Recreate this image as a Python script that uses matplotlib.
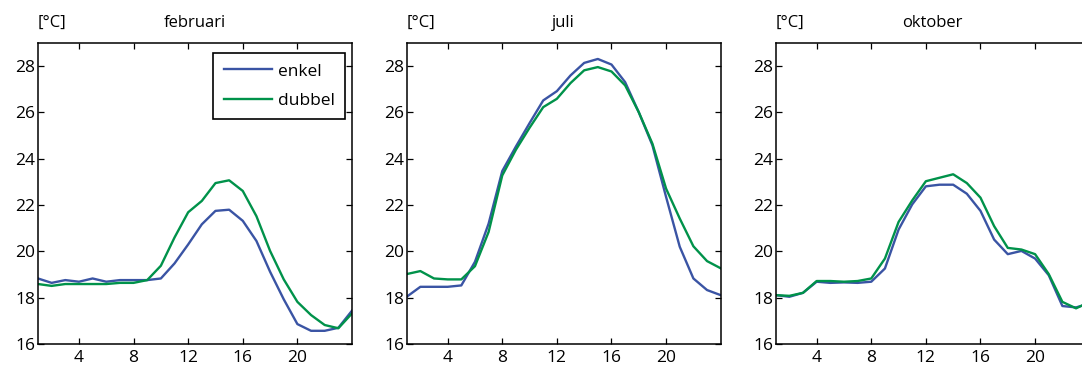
import matplotlib
matplotlib.use('Agg')
import matplotlib.pyplot as plt
import numpy as np

# uur van de dag
hours = np.arange(1, 25)

months = ['februari', 'juli', 'oktober']

feb_enkel = [18.83, 18.64, 18.76, 18.69, 18.83, 18.69, 18.76, 18.76, 18.76, 18.83, 19.48, 20.30,
             21.17, 21.75, 21.80, 21.32, 20.45, 19.12, 17.93, 16.86, 16.57, 16.57, 16.70, 17.44]
feb_dubbel = [18.59, 18.51, 18.59, 18.59, 18.59, 18.59, 18.64, 18.64, 18.76, 19.38, 20.60, 21.69,
              22.18, 22.95, 23.07, 22.61, 21.52, 20.02, 18.79, 17.82, 17.25, 16.82, 16.68, 17.32]

jul_enkel = [18.04, 18.47, 18.47, 18.47, 18.53, 19.55, 21.20, 23.47, 24.53, 25.54, 26.52, 26.92,
             27.60, 28.14, 28.31, 28.07, 27.31, 26.01, 24.58, 22.35, 20.20, 18.83, 18.33, 18.11]
jul_dubbel = [19.02, 19.15, 18.83, 18.79, 18.79, 19.36, 20.84, 23.28, 24.39, 25.34, 26.23, 26.59,
              27.27, 27.82, 27.96, 27.77, 27.17, 26.01, 24.65, 22.71, 21.42, 20.22, 19.58, 19.27]

okt_enkel = [18.11, 18.04, 18.21, 18.69, 18.64, 18.66, 18.64, 18.69, 19.26, 20.94, 22.03, 22.81,
             22.88, 22.88, 22.49, 21.75, 20.51, 19.88, 20.02, 19.69, 18.97, 17.64, 17.58, 17.75]
okt_dubbel = [18.11, 18.08, 18.21, 18.72, 18.72, 18.69, 18.72, 18.83, 19.69, 21.27, 22.20, 23.03,
              23.18, 23.33, 22.95, 22.32, 21.09, 20.15, 20.08, 19.88, 19.02, 17.82, 17.54, 17.82]

series = [(feb_enkel, feb_dubbel), (jul_enkel, jul_dubbel), (okt_enkel, okt_dubbel)]

BLUE = '#3a54a4'
GREEN = '#00924a'

plt.rcParams['font.family'] = ['Open Sans', 'DejaVu Sans']

W, H = 1082, 369
fig = plt.figure(figsize=(W / 100, H / 100), dpi=100)

lefts = [38, 406.7, 775.7]
ax_w, ax_top, ax_bot = 314, 43, 344
head_y = 1 + 16 / (ax_bot - ax_top)

for i, (month, (enkel, dubbel)) in enumerate(zip(months, series)):
    ax = fig.add_axes([lefts[i] / W, (H - ax_bot) / H, ax_w / W, (ax_bot - ax_top) / H])
    ax.plot(hours, enkel, color=BLUE, lw=1.7, label='enkel')
    ax.plot(hours, dubbel, color=GREEN, lw=1.7, label='dubbel')
    ax.set_xlim(1, 24)
    ax.set_ylim(16, 29)
    ax.set_xticks([4, 8, 12, 16, 20])
    ax.set_yticks([16, 18, 20, 22, 24, 26, 28])
    ax.tick_params(direction='in', length=4, width=0.9, top=True, right=True,
                   labelsize=12.5, colors='black')
    ax.tick_params(axis='x', pad=4)
    ax.tick_params(axis='y', pad=2)
    for sp in ax.spines.values():
        sp.set_linewidth(1.1)
    ax.text(0.5, head_y, month, transform=ax.transAxes, fontsize=12,
            ha='center', va='baseline')
    ax.text(0.0, head_y, '[°C]', transform=ax.transAxes, fontsize=12,
            ha='left', va='baseline')
    if i == 0:
        ax.legend(loc='upper right', bbox_to_anchor=(0.978, 0.967), borderaxespad=0,
                  fancybox=False, framealpha=1, edgecolor='black', handlelength=2.8,
                  labelspacing=0.75, handletextpad=0.3, borderpad=0.6,
                  fontsize=12.5).get_frame().set_linewidth(1.2)

fig.savefig('out.png', dpi=100)
